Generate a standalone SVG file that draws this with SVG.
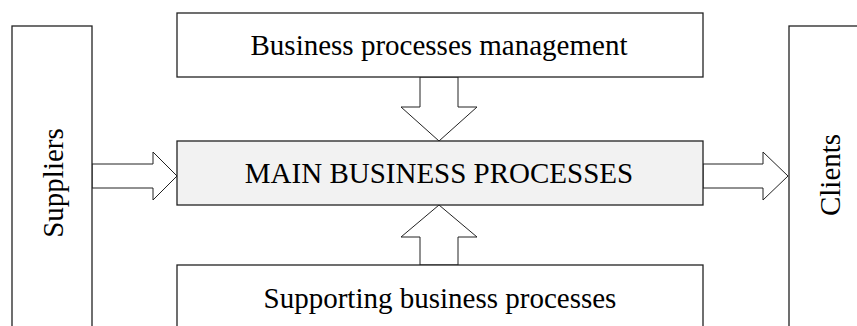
<svg xmlns="http://www.w3.org/2000/svg" width="857" height="326" viewBox="0 0 857 326">
<style>
.box{fill:#fff;stroke:#222;stroke-width:1.3}
.main{fill:#f2f2f2;stroke:#222;stroke-width:1.3}
.arr{fill:#fff;stroke:#222;stroke-width:1}
text{font-family:"Liberation Serif","Times New Roman",serif;font-size:29px;fill:#000;text-anchor:middle}
</style>
<rect width="857" height="326" fill="#fff"/>
<g id="connectors">
<polygon class="arr" points="92,164 153,164 153,152 177,176 153,200 153,188 92,188"/>
<polygon class="arr" points="703,164 763,164 763,152 788,176 763,200 763,188 703,188"/>
<polygon class="arr" points="420,77 420,107 401,107 439,141 477,107 458,107 458,77"/>
<polygon class="arr" points="420,265 420,237 401,237 439,205 477,237 458,237 458,265"/>
</g>
<g id="suppliers">
<rect class="box" x="12" y="26" width="80" height="320"/>
<text transform="translate(62.5,183) rotate(-90)">Suppliers</text>
</g>
<g id="clients">
<rect class="box" x="789" y="26" width="90" height="320"/>
<text transform="translate(840,175) rotate(-90)">Clients</text>
</g>
<g id="management">
<rect class="box" x="177" y="13" width="526" height="64"/>
<text x="439" y="55">Business processes management</text>
</g>
<g id="main">
<rect class="main" x="177" y="141" width="526" height="64"/>
<text x="439" y="183.3">MAIN BUSINESS PROCESSES</text>
</g>
<g id="supporting">
<rect class="box" x="177" y="265" width="526" height="80"/>
<text x="440" y="308.3">Supporting business processes</text>
</g>
</svg>
